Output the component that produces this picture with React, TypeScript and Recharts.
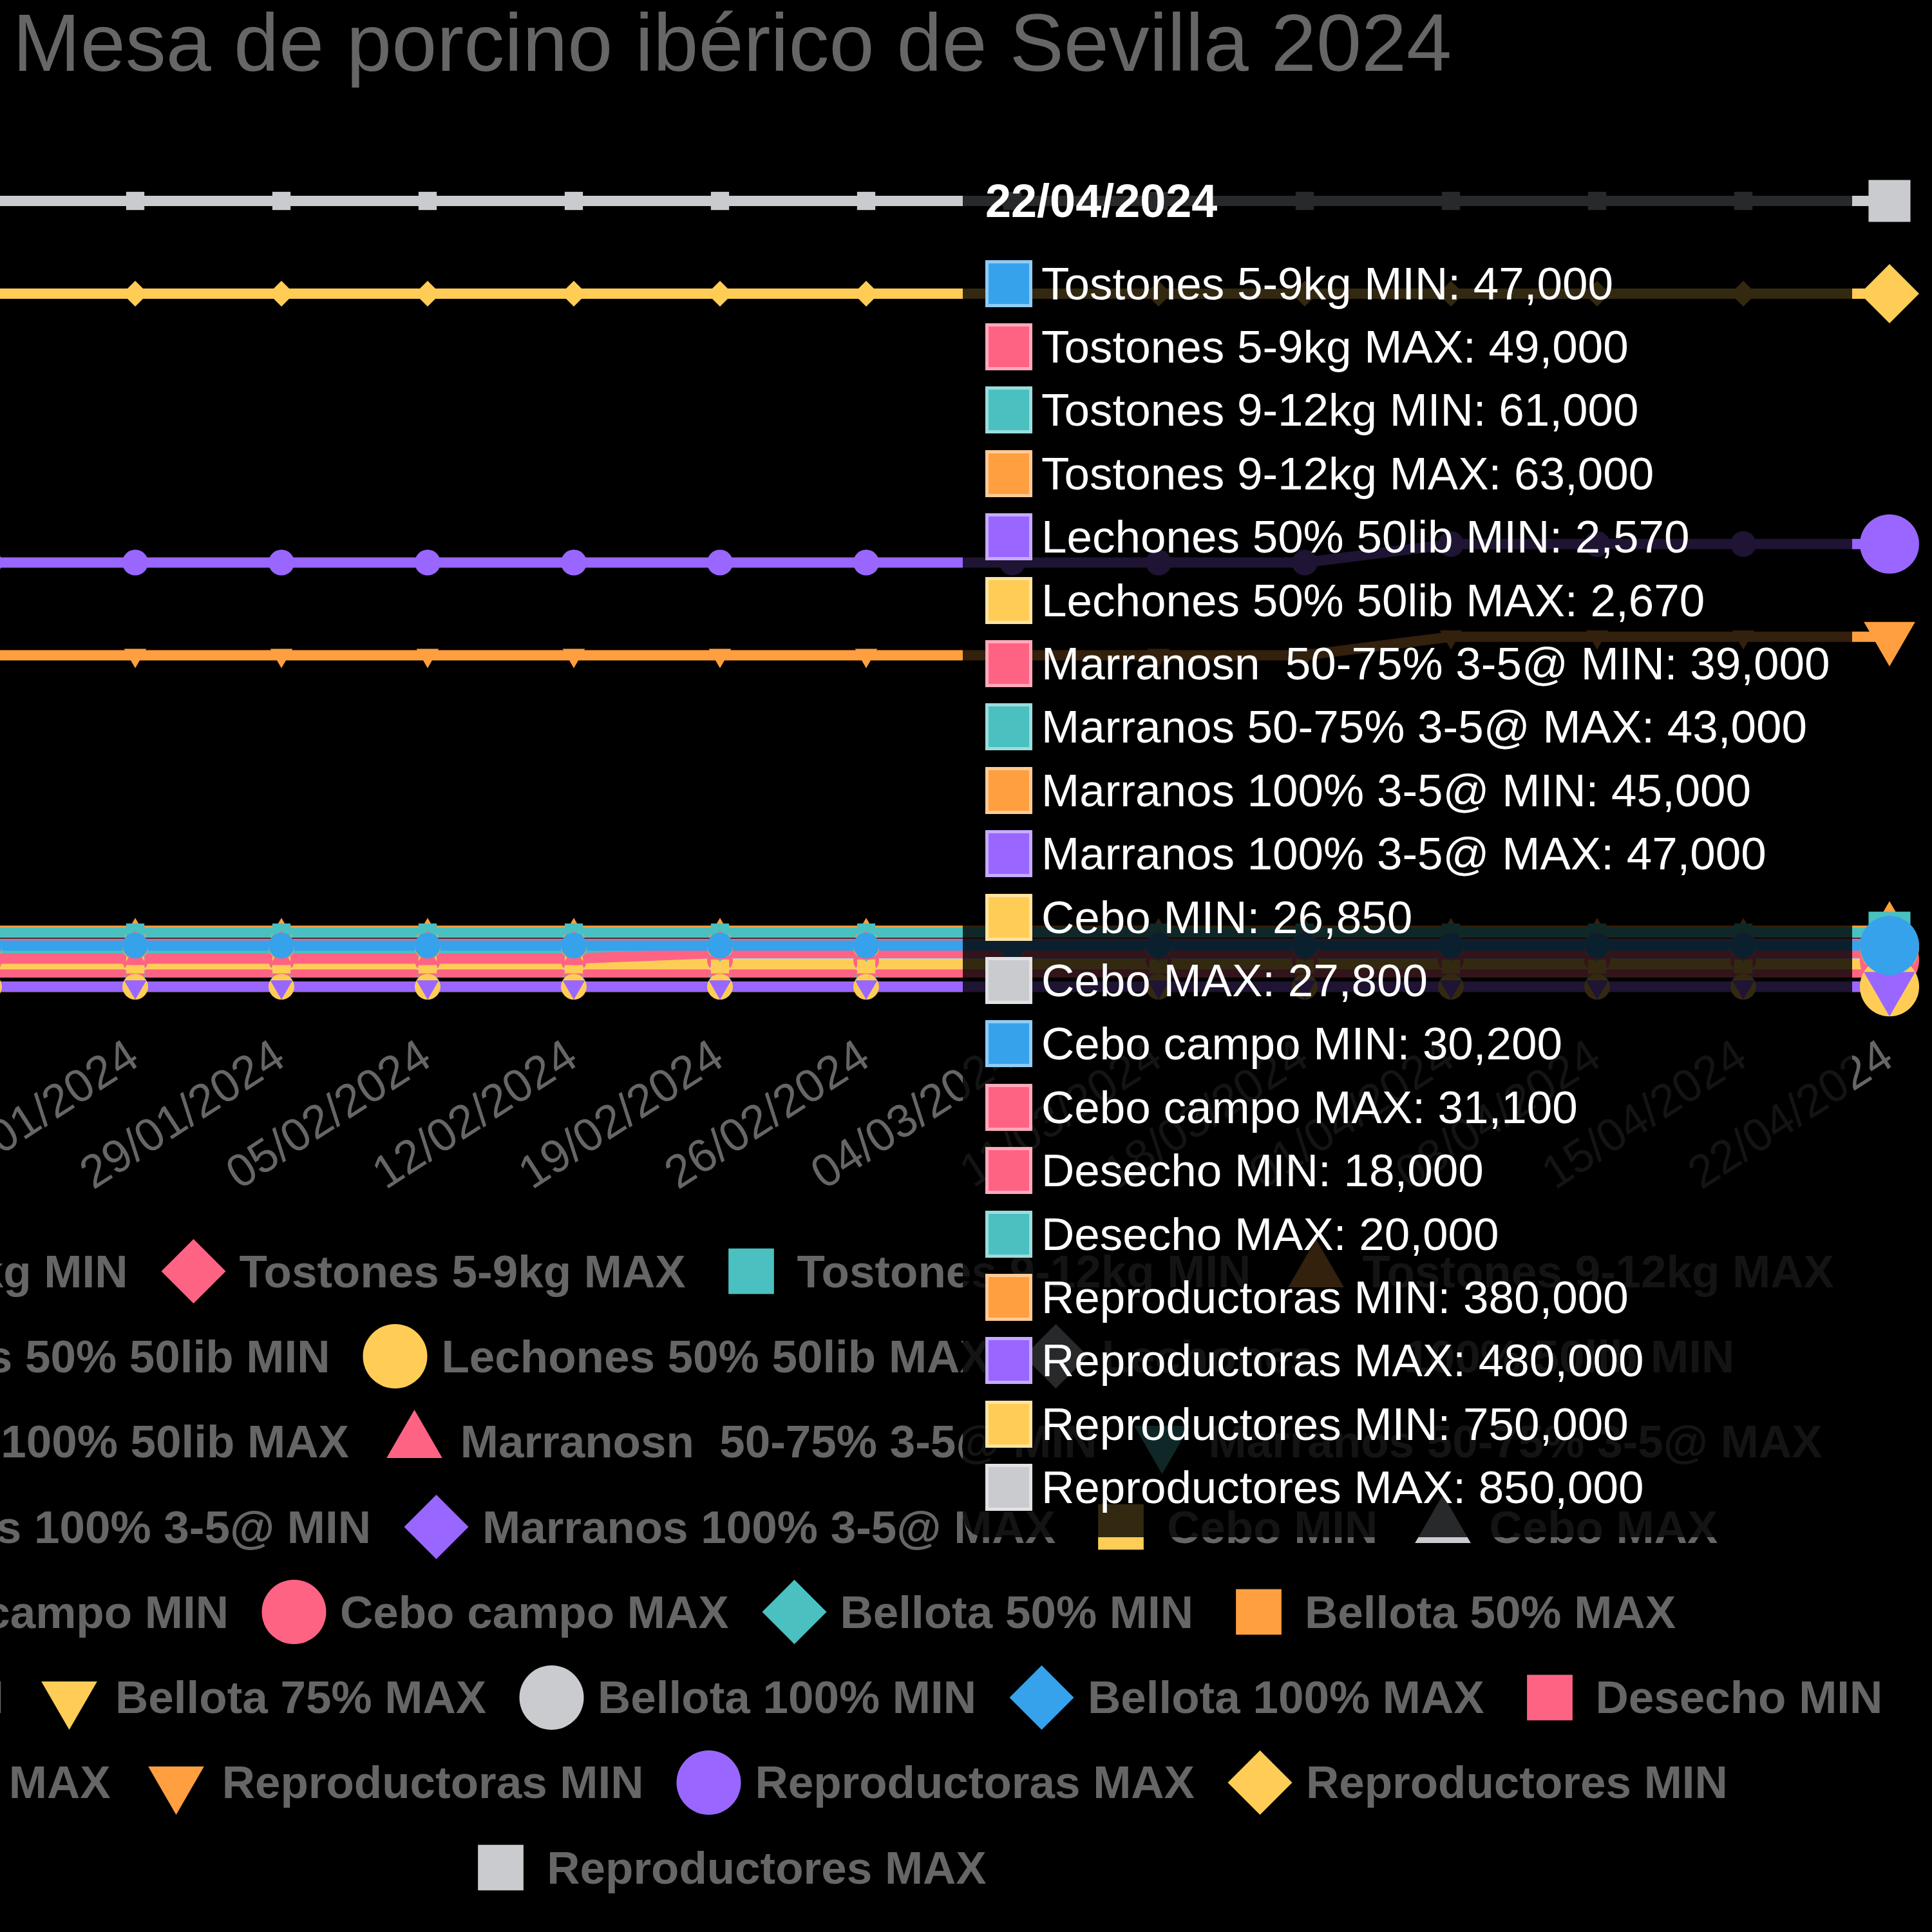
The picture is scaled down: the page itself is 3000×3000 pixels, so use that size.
import React from 'react';
import { LineChart, Line, XAxis, YAxis, Tooltip, Legend } from 'recharts';

// Weekly session dates of the Sevilla Iberian pig table
const DATES = [
  '15/01/2024', '22/01/2024', '29/01/2024', '05/02/2024', '12/02/2024', '19/02/2024', '26/02/2024',
  '04/03/2024', '11/03/2024', '18/03/2024', '01/04/2024', '08/04/2024', '15/04/2024', '22/04/2024',
];

const tostones59Min = [47000, 47000, 47000, 47000, 47000, 47000, 47000, 47000, 47000, 47000, 47000, 47000, 47000, 47000];
const tostones59Max = [49000, 49000, 49000, 49000, 49000, 49000, 49000, 49000, 49000, 49000, 49000, 49000, 49000, 49000];
const tostones912Min = [61000, 61000, 61000, 61000, 61000, 61000, 61000, 61000, 61000, 61000, 61000, 61000, 61000, 61000];
const tostones912Max = [63000, 63000, 63000, 63000, 63000, 63000, 63000, 63000, 63000, 63000, 63000, 63000, 63000, 63000];
const lechones50Min = [2570, 2570, 2570, 2570, 2570, 2570, 2570, 2570, 2570, 2570, 2570, 2570, 2570, 2570];
const lechones50Max = [2670, 2670, 2670, 2670, 2670, 2670, 2670, 2670, 2670, 2670, 2670, 2670, 2670, 2670];
const lechones100Min = [null, null, null, null, null, null, null, null, null, null, null, null, null, null];
const lechones100Max = [null, null, null, null, null, null, null, null, null, null, null, null, null, null];
const marranos5075Min = [33000, 33000, 33000, 33000, 33000, 39000, 39000, 39000, 39000, 39000, 39000, 39000, 39000, 39000];
const marranos5075Max = [43000, 43000, 43000, 43000, 43000, 43000, 43000, 43000, 43000, 43000, 43000, 43000, 43000, 43000];
const marranos100Min = [45000, 45000, 45000, 45000, 45000, 45000, 45000, 45000, 45000, 45000, 45000, 45000, 45000, 45000];
const marranos100Max = [47000, 47000, 47000, 47000, 47000, 47000, 47000, 47000, 47000, 47000, 47000, 47000, 47000, 47000];
const ceboMin = [26850, 26850, 26850, 26850, 26850, 26850, 26850, 26850, 26850, 26850, 26850, 26850, 26850, 26850];
const ceboMax = [27800, 27800, 27800, 27800, 27800, 27800, 27800, 27800, 27800, 27800, 27800, 27800, 27800, 27800];
const ceboCampoMin = [30200, 30200, 30200, 30200, 30200, 30200, 30200, 30200, 30200, 30200, 30200, 30200, 30200, 30200];
const ceboCampoMax = [31100, 31100, 31100, 31100, 31100, 31100, 31100, 31100, 31100, 31100, 31100, 31100, 31100, 31100];
const bellota50Min = [null, null, null, null, null, null, null, null, null, null, null, null, null, null];
const bellota50Max = [null, null, null, null, null, null, null, null, null, null, null, null, null, null];
const bellota75Min = [null, null, null, null, null, null, null, null, null, null, null, null, null, null];
const bellota75Max = [null, null, null, null, null, null, null, null, null, null, null, null, null, null];
const bellota100Min = [null, null, null, null, null, null, null, null, null, null, null, null, null, null];
const bellota100Max = [null, null, null, null, null, null, null, null, null, null, null, null, null, null];
const desechoMin = [18000, 18000, 18000, 18000, 18000, 18000, 18000, 18000, 18000, 18000, 18000, 18000, 18000, 18000];
const desechoMax = [20000, 20000, 20000, 20000, 20000, 20000, 20000, 20000, 20000, 20000, 20000, 20000, 20000, 20000];
const reproductorasMin = [360000, 360000, 360000, 360000, 360000, 360000, 360000, 360000, 360000, 360000, 380000, 380000, 380000, 380000];
const reproductorasMax = [460000, 460000, 460000, 460000, 460000, 460000, 460000, 460000, 460000, 460000, 480000, 480000, 480000, 480000];
const reproductoresMin = [750000, 750000, 750000, 750000, 750000, 750000, 750000, 750000, 750000, 750000, 750000, 750000, 750000, 750000];
const reproductoresMax = [850000, 850000, 850000, 850000, 850000, 850000, 850000, 850000, 850000, 850000, 850000, 850000, 850000, 850000];

const SERIES_NAMES = [
  'Tostones 5-9kg MIN', 'Tostones 5-9kg MAX', 'Tostones 9-12kg MIN', 'Tostones 9-12kg MAX',
  'Lechones 50% 50lib MIN', 'Lechones 50% 50lib MAX', 'Lechones       100% 50lib MIN', 'Lechones      100% 50lib MAX',
  'Marranosn  50-75% 3-5@ MIN', 'Marranos 50-75% 3-5@ MAX', 'Marranos 100% 3-5@ MIN', 'Marranos 100% 3-5@ MAX',
  'Cebo MIN', 'Cebo MAX', 'Cebo campo MIN', 'Cebo campo MAX',
  'Bellota 50% MIN', 'Bellota 50% MAX', 'Bellota 75% MIN', 'Bellota 75% MAX',
  'Bellota 100% MIN', 'Bellota 100% MAX', 'Desecho MIN', 'Desecho MAX',
  'Reproductoras MIN', 'Reproductoras MAX', 'Reproductores MIN', 'Reproductores MAX',
];

const SERIES_VALUES = [
  tostones59Min, tostones59Max, tostones912Min, tostones912Max,
  lechones50Min, lechones50Max, lechones100Min, lechones100Max,
  marranos5075Min, marranos5075Max, marranos100Min, marranos100Max,
  ceboMin, ceboMax, ceboCampoMin, ceboCampoMax,
  bellota50Min, bellota50Max, bellota75Min, bellota75Max,
  bellota100Min, bellota100Max, desechoMin, desechoMax,
  reproductorasMin, reproductorasMax, reproductoresMin, reproductoresMax,
];

const TITLE = 'Mesa de porcino ibérico de Sevilla 2024';

// Colour and marker cycles applied to the series in order
const PALETTE = [
  'rgb(54, 162, 235)', 'rgb(255, 99, 132)', 'rgb(75, 192, 192)', 'rgb(255, 159, 64)',
  'rgb(153, 102, 255)', 'rgb(255, 205, 86)', 'rgb(201, 203, 207)',
];
const SHAPES = ['circle', 'rectRot', 'rect', 'triangle', 'triangleDown'];

// Legend items per row
const LEGEND_ROW_SIZES = [4, 3, 3, 4, 4, 5, 4, 1];

const FONT = "'Liberation Sans', Arial, Helvetica, sans-serif";

const CHART_W = 3726;
const CHART_H = 3000;
const CHART_LEFT = -726;

const SERIES = SERIES_NAMES.map((name, i) => ({
  key: `s${i}`,
  name,
  color: PALETTE[i % PALETTE.length],
  shape: SHAPES[i % SHAPES.length],
  values: SERIES_VALUES[i],
}));

const rows = DATES.map((date, d) => {
  const row: Record<string, any> = { date };
  SERIES.forEach((s) => {
    row[s.key] = s.values[d];
  });
  return row;
});

function Marker({ shape, cx, cy, r, fill }: { shape: string; cx: number; cy: number; r: number; fill: string }) {
  if (shape === 'circle') return <circle cx={cx} cy={cy} r={r} fill={fill} />;
  if (shape === 'rect') {
    const s = r * Math.SQRT1_2;
    return <rect x={cx - s} y={cy - s} width={2 * s} height={2 * s} fill={fill} />;
  }
  if (shape === 'rectRot') {
    return <polygon points={`${cx},${cy - r} ${cx + r},${cy} ${cx},${cy + r} ${cx - r},${cy}`} fill={fill} />;
  }
  const base = shape === 'triangleDown' ? Math.PI : 0;
  const pts = [0, 1, 2]
    .map((k) => {
      const a = base + (k * 2 * Math.PI) / 3;
      return `${cx + Math.sin(a) * r},${cy - Math.cos(a) * r}`;
    })
    .join(' ');
  return <polygon points={pts} fill={fill} />;
}

const DateTick = (props: any) => {
  const { x, y, payload } = props;
  const ax = x + 10;
  const ay = y + 116;
  return (
    <text
      x={ax}
      y={ay}
      textAnchor="end"
      fill="#666"
      fontSize={72}
      fontFamily={FONT}
      transform={`rotate(-33, ${ax}, ${ay})`}
    >
      {payload.value}
    </text>
  );
};

const TooltipBox = (props: any) => {
  const { active, payload, label } = props;
  if (!active || !payload || !payload.length) return null;
  const items = payload
    .filter((p: any) => p.value !== null && p.value !== undefined)
    .map((p: any) => SERIES.find((s) => s.key === p.dataKey)!)
    .filter(Boolean)
    .sort((a: any, b: any) => SERIES.indexOf(a) - SERIES.indexOf(b));
  const idx = DATES.indexOf(label);
  return (
    <div
      style={{
        background: 'rgba(0,0,0,0.8)',
        borderRadius: 35,
        padding: '35px 35px 28px 35px',
        fontFamily: FONT,
        color: '#fff',
        whiteSpace: 'pre',
      }}
    >
      <div style={{ fontWeight: 'bold', fontSize: 72, lineHeight: '84px', marginBottom: 37 }}>{label}</div>
      {items.map((s: any) => (
        <div key={s.key} style={{ display: 'flex', alignItems: 'center', height: 98.4, fontSize: 71 }}>
          <span
            style={{
              display: 'inline-block',
              width: 73,
              height: 73,
              background: s.color,
              boxShadow: 'inset 0 0 0 5px rgba(255,255,255,0.45)',
              marginRight: 14,
              flex: 'none',
            }}
          />
          {`${s.name}: ${Number(s.values[idx]).toLocaleString('en-US')}`}
        </div>
      ))}
    </div>
  );
};

const LegendRows = () => {
  let start = 0;
  return (
    <div style={{ fontFamily: FONT, fontWeight: 'bold', fontSize: 71, color: '#666', width: CHART_W }}>
      {LEGEND_ROW_SIZES.map((n, r) => {
        const items = SERIES.slice(start, start + n);
        start += n;
        return (
          <div
            key={r}
            style={{ display: 'flex', justifyContent: 'center', alignItems: 'center', height: 132.3, whiteSpace: 'pre' }}
          >
            {items.map((s, i) => (
              <div key={s.key} style={{ display: 'flex', alignItems: 'center', marginLeft: i ? 66 : 0 }}>
                <svg width={71} height={100} style={{ overflow: 'visible', flex: 'none' }}>
                  <Marker shape={s.shape} cx={35.5} cy={50} r={50} fill={s.color} />
                </svg>
                <span style={{ marginLeft: 36 }}>{s.name}</span>
              </div>
            ))}
          </div>
        );
      })}
    </div>
  );
};

export default function App() {
  // The first series is painted on top, so lines are emitted last-to-first
  const drawOrder = [...SERIES].reverse();
  return (
    <div
      style={{
        position: 'fixed',
        left: 0,
        top: 0,
        width: 3000,
        height: 3000,
        overflow: 'hidden',
        background: '#000',
      }}
    >
      <div style={{ position: 'absolute', left: CHART_LEFT, top: 0, width: CHART_W, height: CHART_H }}>
        <div
          style={{
            position: 'absolute',
            left: 0,
            top: 4,
            width: CHART_W,
            textAlign: 'center',
            fontFamily: FONT,
            fontSize: 126,
            lineHeight: '126px',
            color: '#666',
            whiteSpace: 'pre',
          }}
        >
          {TITLE}
        </div>
        <LineChart
          width={CHART_W}
          height={CHART_H}
          data={rows}
          margin={{ top: 240, right: 66, bottom: 1064, left: 709 }}
        >
          <XAxis
            dataKey="date"
            interval={0}
            height={400}
            axisLine={false}
            tickLine={false}
            tickSize={0}
            tickMargin={0}
            tick={<DateTick />}
          />
          <YAxis hide type="number" domain={[0, 900000]} />
          <Legend
            verticalAlign="middle"
            align="center"
            layout="horizontal"
            wrapperStyle={{ top: 1908, left: 0, width: CHART_W }}
            content={<LegendRows />}
          />
          {drawOrder.map((s) => (
            <Line
              key={s.key}
              dataKey={s.key}
              name={s.name}
              type="linear"
              stroke={s.color}
              strokeWidth={16}
              isAnimationActive={false}
              connectNulls={false}
              dot={(p: any) =>
                p.value === null || p.value === undefined || p.cy == null ? (
                  <g key={`d-${s.key}-${p.index}`} />
                ) : (
                  <Marker key={`d-${s.key}-${p.index}`} shape={s.shape} cx={p.cx} cy={p.cy} r={20} fill={s.color} />
                )
              }
              activeDot={(p: any) =>
                p.cy == null || p.value === null || p.value === undefined ? (
                  <g />
                ) : (
                  <Marker shape={s.shape} cx={p.cx} cy={p.cy} r={46} fill={s.color} />
                )
              }
            />
          ))}
          <Tooltip
            active
            defaultIndex={DATES.length - 1}
            position={{ x: 1495 - CHART_LEFT, y: 235 }}
            cursor={false}
            isAnimationActive={false}
            wrapperStyle={{ zIndex: 10 }}
            content={<TooltipBox />}
          />
        </LineChart>
      </div>
    </div>
  );
}
